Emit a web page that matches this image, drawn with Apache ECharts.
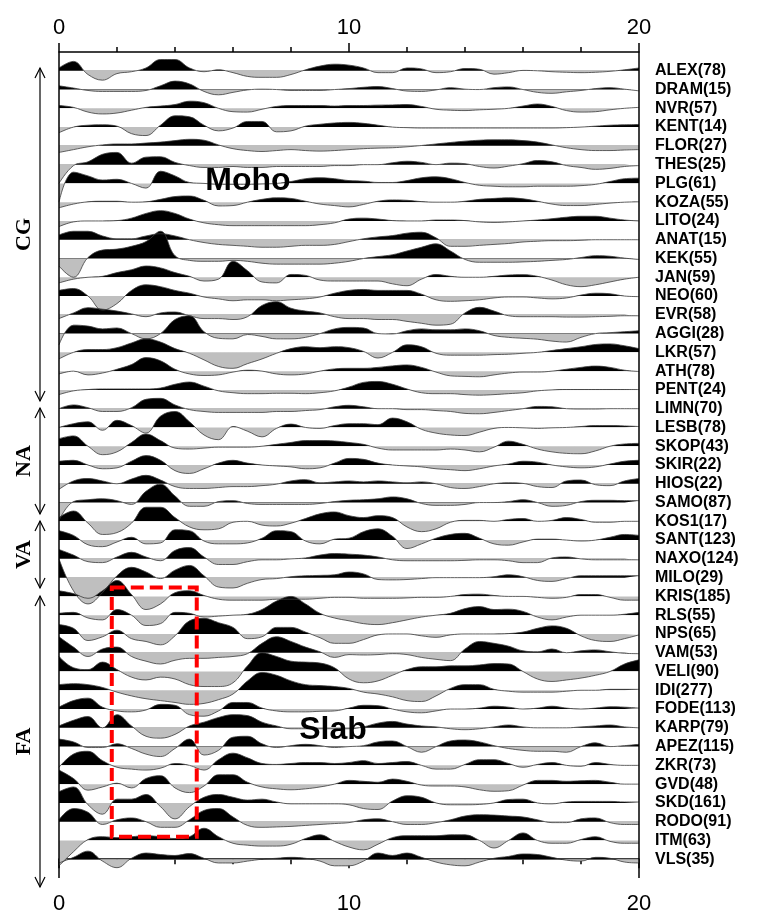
<!DOCTYPE html>
<html>
<head>
<meta charset="utf-8">
<script src="https://cdn.jsdelivr.net/npm/echarts@6/dist/echarts.min.js"></script>
<style>
  html, body { margin: 0; padding: 0; background: #fff; }
  #chart { width: 762px; height: 915px; }
</style>
</head>
<body>
<div id="chart"></div>
<script>
const times = [0,0.5,1,1.5,2,2.5,3,3.5,4,4.5,5,5.5,6,6.5,7,7.5,8,8.5,9,9.5,10,10.5,11,11.5,12,12.5,13,13.5,14,14.5,15,15.5,16,16.5,17,17.5,18,18.5,19,19.5,20];
const stations = ['ALEX(78)','DRAM(15)','NVR(57)','KENT(14)','FLOR(27)','THES(25)','PLG(61)','KOZA(55)','LITO(24)','ANAT(15)','KEK(55)','JAN(59)','NEO(60)','EVR(58)','AGGI(28)','LKR(57)','ATH(78)','PENT(24)','LIMN(70)','LESB(78)','SKOP(43)','SKIR(22)','HIOS(22)','SAMO(87)','KOS1(17)','SANT(123)','NAXO(124)','MILO(29)','KRIS(185)','RLS(55)','NPS(65)','VAM(53)','VELI(90)','IDI(277)','FODE(113)','KARP(79)','APEZ(115)','ZKR(73)','GVD(48)','SKD(161)','RODO(91)','ITM(63)','VLS(35)'];
const xTicks = [0, 10, 20];

// amplitudes, in units of trace spacing, sampled every 0.5 s
const alex = [0.15,0.5,-0.2,-0.5,-0.15,-0.05,0.15,0.6,0.6,0.15,-0.05,0.05,-0.1,-0.3,-0.35,-0.35,-0.2,0.05,0.25,0.35,0.3,0.15,-0.1,-0.1,0.15,0.1,-0.1,-0.05,0.12,0.08,-0.18,-0.1,0.02,0,-0.05,-0.08,-0.1,-0.08,-0.03,0.05,0.15];
const dram = [0.2,0.08,-0.05,-0.1,-0.1,-0.1,-0.05,0.2,0.45,0.3,-0.1,-0.28,-0.15,-0.02,0.02,0,-0.05,-0.05,-0.05,0,0.05,0.12,0.16,0.05,-0.08,-0.1,-0.02,0.1,0.02,0,0.1,0.14,0,-0.15,-0.2,-0.12,-0.05,0.05,0.1,0.02,-0.07];
const nvr = [0.15,0.05,-0.2,-0.3,-0.25,-0.1,0.05,0.12,0.2,0.38,0.3,0,-0.18,-0.2,-0.05,0.1,0.15,0.15,0.15,0.12,0.15,0.15,0.17,0.18,0.2,0.1,-0.05,-0.1,-0.12,-0.08,-0.05,0,0.12,0.23,0.1,-0.12,-0.2,-0.18,-0.08,0,0.05];
const kent = [-0.3,0,0.1,0.12,0.05,-0.35,-0.45,0.1,0.6,0.55,0.1,-0.2,-0.05,0.3,0.3,-0.25,-0.2,0.05,0.15,0.22,0.25,0.2,0.1,0,-0.03,-0.05,-0.05,-0.05,-0.05,-0.05,-0.05,-0.05,-0.05,-0.05,-0.05,-0.03,0,0.05,0.1,0.12,0.14];
const flor = [-0.35,-0.2,-0.05,0.05,0.1,0.1,0.15,0.2,0.28,0.35,0.3,0.05,-0.15,-0.25,-0.3,-0.25,-0.2,-0.25,-0.28,-0.25,-0.2,-0.15,-0.12,-0.1,-0.05,0.02,0.1,0.18,0.25,0.3,0.32,0.32,0.28,0.2,0.05,-0.1,-0.2,-0.25,-0.25,-0.22,-0.2];
const thes = [-1.0,-0.05,0.15,0.55,0.65,0.08,0.4,0.42,0.12,-0.05,-0.15,-0.15,-0.1,-0.15,-0.15,-0.1,-0.1,-0.1,-0.1,-0.05,-0.05,0,0,0.1,0.18,0.12,0,0.08,0.05,-0.1,-0.18,-0.08,0.05,0.22,0.15,-0.05,-0.15,-0.25,-0.2,-0.1,-0.05];
const plg = [-1.0,0.6,0.4,0.18,0.22,0,-0.25,0.65,0.4,0.05,0,-0.05,-0.05,-0.05,-0.03,0,0.1,0.25,0.3,0.25,0.15,0.12,0.05,0.05,0.15,0.3,0.35,0.25,0.05,-0.1,-0.15,-0.18,-0.18,-0.15,-0.15,-0.15,-0.12,-0.05,0.1,0.25,0.28];
const koza = [-0.3,-0.1,0.02,0.05,0.05,0,0.02,0.15,0.3,0.33,0.1,-0.2,-0.18,0,0.15,0.23,0.2,0.05,-0.1,-0.18,-0.25,-0.12,0.05,0.12,0.1,0.03,0,0,0.05,0.15,0.2,0.23,0.18,0.05,-0.1,-0.18,-0.18,-0.12,-0.05,0,0.02];
const lito = [-0.3,-0.05,0,0,0.02,0.15,0.4,0.55,0.4,0.1,-0.1,-0.2,-0.25,-0.25,-0.25,-0.25,-0.25,-0.25,-0.2,-0.1,0.1,0.15,0.1,0.02,0,0,0.05,0.05,0.02,-0.05,-0.08,-0.05,0,0.05,0.12,0.2,0.25,0.25,0.15,0.05,0];
const anat = [0.25,0.45,0.45,0.2,0.05,0.05,0.2,0.32,0.2,0,-0.15,-0.25,-0.3,-0.35,-0.4,-0.4,-0.35,-0.3,-0.3,-0.25,-0.1,0.05,0.15,0.22,0.35,0.4,0.1,-0.35,-0.35,-0.3,-0.25,-0.2,-0.12,-0.08,-0.05,-0.05,-0.03,0,0,0,0];
const kek = [-0.4,-1.0,0.05,0.45,0.5,0.65,0.9,1.45,0.15,-0.1,-0.15,-0.15,-0.1,-0.15,-0.25,-0.3,-0.3,-0.3,-0.3,-0.25,-0.15,0,0.1,0.2,0.4,0.6,0.78,0.4,-0.05,-0.2,-0.2,-0.2,-0.18,-0.15,-0.1,-0.05,0.05,0.15,0.12,0.02,-0.05];
const jan = [-0.3,-0.1,0,0.05,0.25,0.4,0.6,0.5,0.25,0.05,-0.2,-0.1,0.85,0.35,-0.25,-0.3,0.15,0.1,-0.15,-0.2,-0.2,-0.2,-0.2,-0.35,-0.45,-0.1,0.15,0.05,0,0,0.05,0.12,0.14,0.05,-0.15,-0.4,-0.5,-0.4,-0.25,-0.1,0];
const neo = [0.3,0.4,0,-0.75,-0.4,0.3,0.6,0.5,0.3,0.15,-0.05,-0.15,-0.25,-0.2,-0.2,-0.25,-0.2,-0.15,-0.05,0.15,0.3,0.35,0.3,0.3,0.3,0.1,-0.2,-0.28,-0.25,-0.2,-0.1,-0.05,-0.05,-0.1,-0.15,-0.1,0.05,0.15,0.12,0,-0.03];
const evr = [-0.2,0.1,0.38,0.3,0.2,0.05,-0.1,0.1,0.15,-0.05,-0.2,-0.2,-0.25,-0.1,0.5,0.7,0.35,0.2,0.1,-0.1,-0.2,-0.2,-0.25,-0.25,-0.35,-0.45,-0.55,-0.5,0.1,0.4,0.2,-0.05,-0.1,-0.1,-0.1,-0.12,-0.12,-0.1,-0.08,-0.05,-0.05];
const aggi = [-0.6,0.45,0.4,0.25,0.3,0,-0.28,0,0.75,0.95,0.1,-0.25,-0.28,-0.05,-0.15,-0.28,-0.28,-0.2,0,0.25,0.33,0.3,0,-0.02,0.15,0.25,0.2,0.2,0.25,0.15,-0.1,-0.2,-0.25,-0.3,-0.4,-0.45,-0.2,0,0.05,0.1,0.15];
const lkr = [-0.35,0,0.15,0.15,0.25,0.5,0.72,0.55,0.2,-0.05,-0.4,-0.75,-0.85,-0.6,-0.35,-0.05,0.2,0.3,0.25,0.3,0.25,0.05,-0.3,0,0.4,0.3,-0.05,-0.15,-0.15,-0.15,-0.12,-0.1,-0.05,0,0.1,0.2,0.3,0.42,0.45,0.35,0.2];
const ath = [-0.15,0,-0.2,-0.1,0.1,0.35,0.72,0.55,0.1,-0.15,-0.23,-0.2,-0.05,0.05,0,-0.15,-0.2,-0.15,0,0.12,0.15,0.15,0.2,0.28,0.33,0.2,-0.05,-0.25,-0.28,-0.3,-0.2,-0.1,-0.05,-0.05,0,0.1,0.2,0.27,0.2,0.05,-0.02];
const pent = [-0.25,-0.05,0.02,0.05,0.05,0.05,0.05,0.1,0.3,0.42,0.2,-0.05,-0.15,-0.2,-0.2,-0.18,-0.18,-0.2,-0.15,-0.05,0.15,0.4,0.45,0.3,0.05,-0.15,-0.2,-0.2,-0.25,-0.28,-0.25,-0.2,-0.15,-0.05,0,0.02,0.02,0.02,0.02,0.02,0.02];
const limn = [0,0.2,0.05,-0.15,-0.15,0.05,0.5,0.55,0.2,-0.05,-0.15,-0.2,-0.2,-0.2,-0.2,-0.15,-0.15,-0.1,-0.05,0.1,0.18,0.1,0,0,-0.05,-0.05,-0.1,-0.15,-0.25,-0.27,-0.2,-0.1,0,0.12,0.1,0,-0.02,-0.02,0,0,0];
const lesb = [0,0.2,0.3,-0.15,0.38,0.1,-0.3,0.6,0.85,0.3,-0.4,-0.65,0.05,-0.2,-0.5,-0.05,0.18,0,-0.05,0.1,0.2,0.2,0.15,0.5,0.3,-0.1,-0.3,-0.4,-0.43,-0.25,-0.05,0,-0.02,-0.05,-0.02,0,0.05,0.1,0.1,0.08,0.05];
const skop = [0.4,0.55,0,-0.45,-0.3,0.2,0.65,0.3,-0.1,-0.15,-0.1,-0.05,-0.05,-0.05,0,0.1,0.2,0.3,0.3,0.28,0.2,0.1,-0.1,-0.2,-0.2,-0.2,-0.2,-0.15,-0.2,-0.3,-0.05,0.27,0.1,-0.15,-0.3,-0.38,-0.4,-0.25,0,0.12,0.15];
const skir = [0.2,0.25,0,-0.2,-0.15,0.2,0.5,0.25,-0.3,-0.45,-0.2,0.1,0.25,0.1,0,-0.05,-0.1,-0.2,-0.15,0.1,0.35,0.3,0.1,0,-0.05,-0.1,-0.2,-0.25,-0.3,-0.2,-0.05,0.05,0.2,0.15,0,-0.1,-0.15,-0.1,0.05,0.2,0.25];
const hios = [-0.3,0.15,0.28,0.15,0,0.25,0.45,0.2,-0.15,-0.25,-0.25,-0.2,-0.15,-0.15,-0.1,-0.02,0.15,0.22,0.05,0.1,0.15,0.1,0.15,0.1,0.05,0.1,0,-0.2,-0.25,-0.15,0,0.05,0.02,-0.15,-0.2,0.15,0.2,-0.05,-0.1,0.15,0.28];
const samo = [-0.95,0.05,0.15,0.2,0.1,-0.1,0.6,0.98,0.35,-0.2,-0.2,0.05,0.1,-0.05,-0.1,-0.1,-0.1,-0.1,-0.05,0.05,0.12,0.15,0.2,0.3,0.2,-0.05,-0.15,-0.15,-0.1,0,0,0.05,0.15,0,-0.2,-0.15,0.05,0.12,0.12,0.1,0.1];
const kos1 = [0.2,0.55,-0.1,-0.7,-0.6,-0.1,0.75,0.75,0.2,-0.3,-0.45,-0.4,-0.05,0,-0.2,-0.25,-0.1,0.15,0.4,0.5,0.3,0.2,0.3,0.2,-0.3,-0.55,-0.4,-0.05,0.05,0.05,0,0.1,0.15,0,0.05,0.2,0.1,-0.05,-0.05,0,0];
const sant = [0.5,0.25,-0.25,-0.35,-0.1,0.15,-0.2,-0.15,0.55,0.5,-0.05,-0.2,-0.2,-0.15,0.1,0.5,0.45,-0.05,-0.2,0.05,0.1,0.45,0.6,0.2,-0.45,-0.2,0.1,0.3,0.36,0.1,-0.2,-0.27,-0.1,0.05,0.05,0,-0.05,0,0.15,0.3,0.25];
const naxo = [0.5,0.2,-0.15,-0.2,0.1,0.35,0.1,-0.1,0.45,0.6,0.1,-0.3,-0.3,-0.15,-0.05,-0.05,0,0.05,0.2,0.28,0.25,0.2,0.1,-0.05,-0.1,-0.1,-0.1,-0.1,-0.08,-0.05,-0.05,-0.1,-0.2,-0.2,0.05,0.1,0,-0.05,-0.05,-0.05,-0.05];
const milo = [1.0,-0.7,-1.4,-0.8,0.1,0.55,0.3,-0.05,0.4,0.65,0.1,-0.5,-0.55,-0.3,-0.1,-0.05,0.05,0.1,0.12,0.15,0.3,0.2,-0.1,-0.12,-0.1,-0.05,0,0,0,0,0.05,0.15,0.05,-0.15,-0.2,-0.05,0.1,0.1,0.1,0.1,0.1];
const kris = [0.3,0.15,-0.1,0.3,0.85,0.1,-0.7,-0.4,0.2,0.3,0.05,-0.15,-0.2,-0.2,-0.2,-0.15,-0.15,-0.15,-0.1,-0.05,-0.05,-0.1,-0.1,-0.1,-0.08,-0.05,-0.05,0,0.1,0.12,0.05,0,0,-0.05,-0.1,-0.05,0.1,0.1,-0.05,-0.2,-0.2];
const rls = [0.1,0.15,-0.15,-0.25,0.3,0,-0.55,-0.45,0.15,0.1,-0.1,-0.05,0,0.05,0.3,0.75,1.0,0.6,0.1,-0.15,-0.3,-0.45,-0.5,-0.4,-0.25,-0.1,0,0.1,0.35,0.46,0.3,0.32,0.2,-0.1,-0.25,-0.1,0,0,0,0.05,0.15];
const nps = [0.5,0.3,-0.35,-0.15,0.2,-0.25,-0.4,-0.58,-0.1,0.7,0.83,0.6,0.35,-0.25,-0.15,0.35,0.35,0.1,-0.2,-0.5,-0.5,-0.3,-0.05,0,0,-0.1,-0.18,-0.05,0,0,0,0.02,0.1,0.3,0.43,0.3,-0.1,-0.35,-0.4,-0.25,-0.05];
const vam = [0.85,0.3,-0.2,0.2,0.3,-0.2,-0.45,-0.6,-0.4,-0.3,-0.3,-0.25,-0.2,-0.05,0.5,0.85,0.6,0.3,0.05,-0.25,-0.1,-0.12,-0.1,-0.05,-0.1,-0.25,-0.35,-0.42,0.2,0.6,0.5,0.35,0.1,0.05,0.2,0,0.1,0.15,0.05,-0.03,-0.05];
const veli = [0.8,0.2,0.1,0.5,0.1,-0.3,-0.45,-0.3,-0.4,-0.7,-0.8,-0.8,-0.6,0.3,1.0,0.8,0.55,0.5,0.45,0.2,-0.4,-0.6,-0.5,-0.2,0.1,0.25,0.25,0.3,0.3,0.35,0.42,0.4,0,-0.4,-0.53,-0.45,-0.35,-0.2,0,0.4,0.62];
const idi = [0.3,0.35,0.3,0.15,-0.1,-0.3,-0.45,-0.55,-0.65,-0.75,-0.7,-0.5,-0.2,0.5,0.95,0.8,0.5,0.3,0.25,0.2,0.1,-0.1,-0.2,-0.35,-0.55,-0.6,-0.3,0.1,0.3,0.3,0.05,-0.05,-0.1,-0.1,-0.1,-0.05,0,0,0.05,0.05,0.05];
const fode = [0.1,0.45,0.58,0.1,-0.1,-0.15,-0.05,0.25,0.2,-0.3,-0.38,-0.1,0.35,0.35,0.05,-0.1,-0.15,-0.15,-0.12,-0.1,0.05,0.2,0.18,0,-0.15,-0.2,-0.1,0,0,0.05,0.15,0.1,0,0.05,0.15,0.05,0,0.05,0.12,0.1,0.05];
const karp = [0.1,0.4,0.6,0,0.7,0.1,-0.45,-0.55,-0.35,0.1,0.3,0.55,0.7,0.65,0.3,0.1,-0.05,-0.05,-0.05,-0.05,-0.05,0.05,0.25,0.34,0.2,0.1,0.05,-0.05,-0.1,-0.05,0.05,0.15,0.05,0,0,0,0.05,0.1,0.15,0.05,0];
const apez = [0.4,0.25,-0.05,-0.05,0.15,-0.1,-0.4,-0.53,-0.1,0.4,-0.45,-0.2,0.5,0.55,0.15,-0.05,0.05,0.12,0.05,-0.05,0,0.05,0.25,0.3,0,-0.3,0,0.3,0.35,0.25,0.05,-0.1,-0.2,-0.25,-0.25,-0.3,0,0.2,0,0.05,0.12];
const zkr = [-0.1,0.6,0.75,0.25,-0.1,-0.2,-0.25,-0.15,0.1,0,-0.25,0.3,0.65,0.4,0.1,0.05,0.1,0.15,0.15,0.1,0.15,0.25,0.1,0.15,0.2,0,-0.2,-0.2,0.05,0.3,0.3,0.1,-0.1,0.05,0.15,0,-0.05,0.15,0.05,0,0];
const gvd = [0.75,0.3,-0.32,-0.15,0.05,-0.2,0.3,0.45,-0.2,-0.45,-0.1,0.5,0.5,0.1,-0.15,-0.25,-0.3,-0.25,-0.15,0,0.2,0.15,0.1,0.27,0.15,-0.05,-0.1,-0.1,-0.15,-0.3,-0.38,-0.35,-0.05,0.2,0.2,0.15,0.18,0.2,0.1,0,0];
const skd = [0.6,0.85,-0.1,-0.6,0.2,0.2,0.45,-0.2,-0.85,-0.2,0.3,0.45,0.3,0.15,0.2,0.05,-0.05,-0.05,-0.05,-0.05,-0.1,-0.3,-0.35,0.1,0.38,0.3,0,-0.1,-0.1,-0.08,0,0.18,0.2,0,-0.05,0.05,0.08,0.08,0.08,0.05,0.05];
const rodo = [0.1,0.7,0.5,-0.15,0.1,0.2,0,-0.3,-0.3,0.1,0.6,0.7,0.25,-0.2,-0.3,-0.28,-0.25,-0.2,-0.15,-0.1,-0.05,0.1,0.15,0,-0.15,-0.15,-0.05,0.1,0.3,0.37,0.35,0.3,0.25,0.1,-0.05,-0.05,0.15,0.2,-0.05,-0.15,-0.15];
const itm = [-1.35,-0.6,0.05,0.2,0.15,0.2,0.25,0.2,0.1,0.2,0.65,0.2,-0.15,-0.25,-0.3,-0.3,-0.2,0.1,0.3,-0.05,-0.35,-0.5,-0.2,0.15,0.25,0.25,0.25,0.3,0.3,0,-0.4,0,0.4,0,-0.15,-0.15,0.05,0.2,-0.05,-0.15,-0.15];
const vls = [-0.2,0.1,0.43,-0.1,-0.45,0.05,0.33,0.25,0.2,0.3,0.05,-0.2,-0.2,-0.1,0,0.05,0.1,0.05,-0.1,-0.35,-0.35,-0.1,0.33,0.2,0.33,0.1,-0.15,-0.3,-0.35,-0.15,0.05,0.15,0.28,0.25,0.1,-0.05,-0.1,0.1,0.05,-0.15,-0.2];

const traces = [alex, dram, nvr, kent, flor, thes, plg, koza, lito, anat, kek, jan, neo, evr, aggi, lkr, ath, pent,
  limn, lesb, skop, skir, hios, samo, kos1, sant, naxo, milo, kris, rls, nps, vam, veli, idi, fode, karp, apez, zkr,
  gvd, skd, rodo, itm, vls];

// station groups: label, first and last station index
const groups = [['CG', 0, 17], ['NA', 18, 23], ['VA', 24, 27], ['FA', 28, 42]];
const slabBox = { t0: 1.82, t1: 4.75, topStation: 'KRIS(185)', bottomStation: 'ITM(63)' };

const chart = echarts.init(document.getElementById('chart'));
const n = stations.length;
const series = [];
const visualMap = [];

traces.forEach((vals, i) => {
  const base = n - 1 - i;
  const data = times.map((t, k) => [t, base + vals[k]]);
  visualMap.push({
    type: 'piecewise', show: false, seriesIndex: series.length, dimension: 1,
    pieces: [
      { lt: base, color: '#bfbfbf' },
      { gte: base, lte: base + 3, color: '#000' },
      { gt: base + 3, color: '#000' }
    ]
  });
  series.push({
    type: 'line', data, smooth: 0.4, symbol: 'none', silent: true,
    lineStyle: { width: 0, opacity: 0 },
    areaStyle: { origin: base, opacity: 1 }
  });
  series.push({
    type: 'line', data, smooth: 0.4, symbol: 'none', silent: true,
    lineStyle: { width: 0.8, color: '#3a3a3a' }
  });
});

const xAxisBase = {
  type: 'value', min: 0, max: 20, interval: 10,
  axisLine: { lineStyle: { color: '#000', width: 1.5 } },
  axisTick: { length: 9, lineStyle: { color: '#000', width: 1.5 } },
  minorTick: { show: true, splitNumber: 5, length: 5, lineStyle: { color: '#000', width: 1.5 } },
  splitLine: { show: false },
  axisLabel: {
    color: '#000', fontSize: 22, fontFamily: 'Liberation Sans',
    formatter: (v) => (xTicks.includes(v) ? String(v) : '')
  }
};

chart.setOption({
  animation: false,
  backgroundColor: '#fff',
  grid: { left: 59, right: 123, top: 52, bottom: 36 },
  xAxis: [
    { ...xAxisBase, position: 'bottom', axisLabel: { ...xAxisBase.axisLabel, margin: 15 } },
    { ...xAxisBase, position: 'top', axisLabel: { ...xAxisBase.axisLabel, margin: 13 } }
  ],
  yAxis: {
    type: 'value', min: -1, max: 43, interval: 1, position: 'right',
    axisLine: { show: false }, axisTick: { show: false }, splitLine: { show: false },
    axisLabel: {
      margin: 16, color: '#000', fontSize: 16, fontWeight: 'bold', fontFamily: 'Liberation Sans',
      formatter: (v) => (v >= 0 && v < n ? stations[n - 1 - v] : '')
    }
  },
  visualMap,
  series
});

const px = (t, v) => chart.convertToPixel({ gridIndex: 0 }, [t, v]);
const baseOf = (name) => n - 1 - stations.indexOf(name);
const [gx0, gy0] = px(0, 43);
const [gx1, gy1] = px(20, -1);

const graphic = [
  { type: 'line', z: 100, shape: { x1: gx0, y1: gy0, x2: gx0, y2: gy1 }, style: { stroke: '#000', lineWidth: 1.5 } },
  { type: 'line', z: 100, shape: { x1: gx1, y1: gy0, x2: gx1, y2: gy1 }, style: { stroke: '#000', lineWidth: 1.5 } }
];

const arrowX = 40;
const groupEnds = { CG: [68, 401], NA: [408, 514], VA: [521, 588], FA: [596, 887] };
groups.forEach(([label]) => {
  const [ya, yb] = groupEnds[label];
  graphic.push(
    { type: 'line', z: 100, shape: { x1: arrowX, y1: ya, x2: arrowX, y2: yb }, style: { stroke: '#000', lineWidth: 1.2 } },
    { type: 'polyline', z: 100, shape: { points: [[arrowX - 5, ya + 10], [arrowX, ya], [arrowX + 5, ya + 10]] }, style: { stroke: '#000', lineWidth: 1.2, fill: null } },
    { type: 'polyline', z: 100, shape: { points: [[arrowX - 5, yb - 10], [arrowX, yb], [arrowX + 5, yb - 10]] }, style: { stroke: '#000', lineWidth: 1.2, fill: null } },
    {
      type: 'text', z: 100, x: 24, y: (ya + yb) / 2, rotation: Math.PI / 2,
      style: { text: label, font: 'bold 22px "Liberation Serif"', fill: '#000', align: 'center', verticalAlign: 'middle' }
    }
  );
});

const [bx0, by0] = px(slabBox.t0, baseOf(slabBox.topStation) + 0.48);
const [bx1, by1] = px(slabBox.t1, baseOf(slabBox.bottomStation) + 0.2);
graphic.push({
  type: 'rect', z: 110,
  shape: { x: bx0, y: by0, width: bx1 - bx0, height: by1 - by0 },
  style: { fill: null, stroke: '#ff0000', lineWidth: 4, lineDash: [13, 6] }
});

graphic.push(
  { type: 'text', z: 120, x: 248, y: 181, style: { text: 'Moho', font: 'bold 32px "Liberation Sans"', fill: '#000', align: 'center', verticalAlign: 'middle' } },
  { type: 'text', z: 120, x: 333, y: 730, style: { text: 'Slab', font: 'bold 32px "Liberation Sans"', fill: '#000', align: 'center', verticalAlign: 'middle' } }
);

chart.setOption({ graphic });
</script>
</body>
</html>
